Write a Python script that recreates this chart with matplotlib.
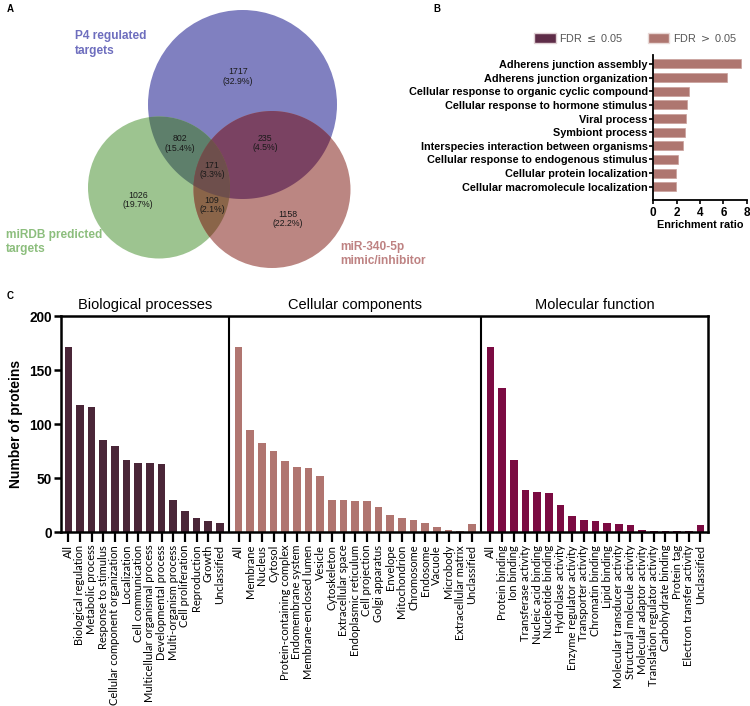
import matplotlib
matplotlib.use('Agg')
import matplotlib.pyplot as plt
from matplotlib.patches import Circle, Polygon, Patch
import numpy as np

### --->>> DADOS PAINEL A (Venn)
venn_set_names = ['P4 regulated\ntargets', 'miRDB predicted\ntargets', 'miR-340-5p\nmimic/inhibitor']
# regiões: P4, miRDB, miR, P4&miRDB, P4&miR, miRDB&miR, todos
venn_counts = [1717, 1026, 1158, 802, 235, 109, 171]

### --->>> DADOS PAINEL B
go_terms = ['Adherens junction assembly', 'Adherens junction organization',
            'Cellular response to organic cyclic compound', 'Cellular response to hormone stimulus',
            'Viral process', 'Symbiont process', 'Interspecies interaction between organisms',
            'Cellular response to endogenous stimulus', 'Cellular protein localization',
            'Cellular macromolecule localization']
enrichment_ratio = [7.5, 6.35, 3.08, 2.86, 2.77, 2.69, 2.54, 2.09, 1.97, 1.97]
fdr_significant = [False] * 10

### --->>> DADOS PAINEL C
group_titles = ['Biological processes', 'Cellular components', 'Molecular function']
bp_labels = ['All', 'Biological regulation', 'Metabolic process', 'Response to stimulus',
             'Cellular component organization', 'Localization', 'Cell communication',
             'Multicellular organismal process', 'Developmental process', 'Multi-organism process',
             'Cell proliferation', 'Reproduction', 'Growth', 'Unclassified']
bp_counts = [171, 118, 116, 85, 80, 67, 64, 64, 63, 30, 20, 13, 10, 9]
cc_labels = ['All', 'Membrane', 'Nucleus', 'Cytosol', 'Protein-containing complex',
             'Endomembrane system', 'Membrane-enclosed lumen', 'Vesicle', 'Cytoskeleton',
             'Extracellular space', 'Endoplasmic reticulum', 'Cell projection', 'Golgi apparatus',
             'Envelope', 'Mitochondrion', 'Chromosome', 'Endosome', 'Vacuole', 'Microbody',
             'Extracellular matrix', 'Unclassified']
cc_counts = [171, 95, 83, 75, 66, 60, 59, 52, 30, 30, 29, 29, 23, 16, 13, 11, 9, 5, 2, 1, 8]
mf_labels = ['All', 'Protein binding', 'Ion binding', 'Transferase activity', 'Nucleic acid binding',
             'Nucleotide binding', 'Hydrolase activity', 'Enzyme regulator activity',
             'Transporter activity', 'Chromatin binding', 'Lipid binding',
             'Molecular transducer activity', 'Structural molecule activity',
             'Molecular adaptor activity', 'Translation regulator activity', 'Carbohydrate binding',
             'Protein tag', 'Electron transfer activity', 'Unclassified']
mf_counts = [171, 133, 67, 39, 37, 36, 25, 15, 11, 10, 9, 8, 7, 2, 1, 1, 1, 1, 7]

plt.rcParams['font.family'] = ['Liberation Sans', 'DejaVu Sans']

fig = plt.figure(figsize=(7.5, 7.06), dpi=100)
W, H = 750.0, 706.0

def px_axes(x0, y0, x1, y1):
    # caixa em pixels (origem em cima, à esquerda)
    return fig.add_axes([x0 / W, 1 - y1 / H, (x1 - x0) / W, (y1 - y0) / H])

### --->>> PAINEL A
axa = px_axes(0, 0, 430, 290)
axa.set_xlim(0, 430)
axa.set_ylim(290, 0)
axa.axis('off')

circles = [(242.5, 104.5, 94.5), (159.0, 187.5, 71.0), (272.0, 189.5, 78.5)]
single_colors = ['#8080c0', '#9dc490', '#bb8682']

def inside(pts, c):
    return (pts[:, 0] - c[0]) ** 2 + (pts[:, 1] - c[1]) ** 2 <= c[2] ** 2 + 1e-6

def convex_region(idx):
    t = np.linspace(0, 2 * np.pi, 1440, endpoint=False)
    pts = []
    for i in idx:
        cx, cy, r = circles[i]
        p = np.column_stack([cx + r * np.cos(t), cy + r * np.sin(t)])
        for j in idx:
            if j != i:
                p = p[inside(p, circles[j])]
        pts.append(p)
    pts = np.vstack(pts)
    m = pts.mean(axis=0)
    ang = np.arctan2(pts[:, 1] - m[1], pts[:, 0] - m[0])
    return pts[np.argsort(ang)]

for (cx, cy, r), col in zip(circles, single_colors):
    axa.add_patch(Circle((cx, cy), r, facecolor=col, edgecolor='none'))
for idx, col in [((0, 1), '#5e7f6b'), ((0, 2), '#7a4262'), ((1, 2), '#8a6549'), ((0, 1, 2), '#6e4f4c')]:
    axa.add_patch(Polygon(convex_region(idx), closed=True, facecolor=col, edgecolor='none'))

total = sum(venn_counts)
count_pos = [(238, 76.5), (138, 200), (288, 219), (180, 143.5), (265, 143), (212, 205), (212, 170)]
for (x, y), n in zip(count_pos, venn_counts):
    axa.text(x, y, f'{n}\n({100 * n / total:.1f}%)', ha='center', va='center',
             fontsize=6.3, linespacing=1.05, color='#1a1a1a')

set_label_pos = [(75, 43.5), (6, 242), (340, 254)]
set_label_colors = ['#6e6ebe', '#8cbe7d', '#be8282']
for (x, y), name, col in zip(set_label_pos, venn_set_names, set_label_colors):
    axa.text(x, y, name, ha='left', va='center', fontsize=8.6, fontweight='bold',
             color=col, linespacing=1.25)

### --->>> PAINEL B
axb = px_axes(653.3, 55, 746.7, 200)
yb = np.arange(len(go_terms))
cores_b = ['#5e2c48' if s else '#ae7670' for s in fdr_significant]
axb.barh(yb, enrichment_ratio, height=0.66, color=cores_b, edgecolor='#c9a09b', linewidth=0.5)
axb.set_ylim(len(go_terms) - 1 + 0.98, -0.66)
axb.set_xlim(0, 8)
axb.set_xticks([0, 2, 4, 6, 8])
axb.set_yticks(yb)
axb.set_yticklabels(go_terms, fontsize=7.8, fontweight='bold')
axb.tick_params(axis='y', length=3, width=1.2, pad=1)
axb.tick_params(axis='x', length=3, width=1.2, pad=2, labelsize=8.5)
for lbl in axb.get_xticklabels():
    lbl.set_fontweight('bold')
axb.set_xlabel('Enrichment ratio', fontsize=7.8, fontweight='bold', labelpad=1)
for s in ['top', 'right']:
    axb.spines[s].set_visible(False)
for s in ['left', 'bottom']:
    axb.spines[s].set_linewidth(1.3)

fig.legend(handles=[Patch(facecolor='#5e2c48', edgecolor='#e0d0d4', label='FDR $\\leq$ 0.05'),
                    Patch(facecolor='#ae7670', edgecolor='#e8d8d6', label='FDR $>$ 0.05')],
           loc='center left', bbox_to_anchor=(529 / W, 1 - 37.5 / H), ncol=2, frameon=False,
           fontsize=7.8, handlelength=1.95, handleheight=1.0, handletextpad=0.3,
           columnspacing=2.3, borderpad=0, labelcolor='#555555')

### --->>> PAINEL C
axc = px_axes(61.3, 316, 708, 532.3)
cores_c = ['#4a2638', '#b07570', '#7b0b42']
grupos = [(bp_labels, bp_counts), (cc_labels, cc_counts), (mf_labels, mf_counts)]
gap = 1.6
start = 0.0
all_x, all_lbl, divisorias = [], [], []
for (labels, counts), cor in zip(grupos, cores_c):
    x = start + np.arange(len(labels))
    axc.bar(x, counts, width=0.65, color=cor, edgecolor='none')
    all_x.extend(x)
    all_lbl.extend(labels)
    divisorias.append(x[-1] + gap / 2)
    start = x[-1] + gap

axc.set_xlim(-0.6, all_x[-1] + 0.65)
axc.set_ylim(0, 200)
for d in divisorias[:-1]:
    axc.axvline(d, color='black', linewidth=1.5)
lims = axc.get_xlim()
for i, t in enumerate(group_titles):
    lo = lims[0] if i == 0 else divisorias[i - 1]
    hi = lims[1] if i == 2 else divisorias[i]
    axc.text((lo + hi) / 2, 203.5, t, ha='center', va='bottom', fontsize=10.5)

axc.set_xticks(all_x)
axc.set_xticklabels(all_lbl, rotation=90, fontsize=8.0, family=['Lato', 'DejaVu Sans'])
axc.set_yticks([0, 50, 100, 150, 200])
axc.tick_params(axis='x', length=7, width=1.6, pad=2)
axc.tick_params(axis='y', length=5, width=1.8, pad=2, labelsize=9.8)
for lbl in axc.get_yticklabels():
    lbl.set_fontweight('bold')
axc.set_ylabel('Number of proteins', fontsize=10, fontweight='bold', labelpad=4)
for s in axc.spines.values():
    s.set_linewidth(1.8)

### --->>> LETRAS DOS PAINÉIS
for x, y, letra in [(7, 9, 'A'), (433, 9, 'B'), (7, 296, 'C')]:
    fig.text(x / W, 1 - y / H, letra, fontsize=7, fontweight='bold', va='center')

fig.savefig('out.png', dpi=100)
